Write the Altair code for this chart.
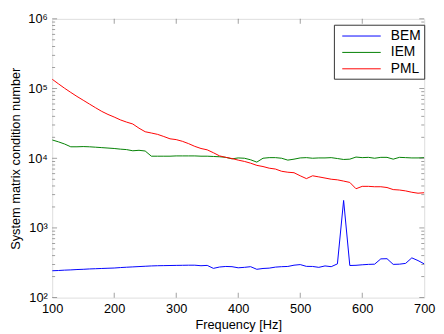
import altair as alt
import pandas as pd

freq = list(range(100, 701, 10))

bem = [243, 245, 248, 250, 253, 255, 258, 260, 262, 264,
       266, 270, 273, 276, 279, 282, 285, 287, 288, 289,
       290, 291, 292, 292, 287, 290, 263, 275, 280, 278,
       268, 272, 278, 255, 262, 265, 274, 278, 280, 292,
       298, 281, 280, 272, 285, 278, 305, 2480, 289, 291,
       296, 300, 302, 360, 362, 300, 302, 310, 372, 340,
       305]

iem = [18300, 17200, 16000, 14600, 14600, 14700, 14600, 14400, 14200, 14000,
       13800, 13500, 13300, 12800, 13000, 12700, 10700, 10700, 10700, 10700,
       10800, 10800, 10800, 10800, 10700, 10700, 10600, 10500, 10300, 9800,
       10100, 10000, 9500, 8800, 10000, 10200, 10200, 10000, 9400, 9700,
       10100, 10200, 10000, 10100, 10100, 10200, 9900, 9600, 9700, 10400,
       10200, 10300, 10000, 10300, 10300, 9700, 10300, 10200, 10100, 10100,
       10200]

pml = [136000, 117000, 101000, 88000, 77000, 68000, 60000, 53000, 47000, 42500,
       39000, 35500, 33000, 31000, 27000, 24000, 23000, 22000, 20500, 19000,
       18500, 17500, 16200, 14800, 13800, 13200, 12000, 10800, 10300, 9900,
       9400, 9000, 8500, 7900, 7600, 7200, 7000, 6500, 6300, 6200,
       5600, 5100, 5600, 5400, 5200, 5000, 4900, 4700, 4500, 3650,
       3950, 3950, 3900, 3900, 3800, 3550, 3500, 3400, 3250, 3150,
       3200]

series = ["BEM", "IEM", "PML"]
colors = ["#0000ff", "#008000", "#ff0000"]

x_ticks = [100, 200, 300, 400, 500, 600, 700]
y_major = [1e2, 1e3, 1e4, 1e5, 1e6]
y_minor = [m * 10 ** e for e in range(2, 6) for m in range(2, 10)]

W, H = 379, 284

rows = []
for name, vals in zip(series, [bem, iem, pml]):
    for f, v in zip(freq, vals):
        rows.append({"f": f, "v": v, "s": name})
df = pd.DataFrame(rows)

xscale = alt.Scale(domain=[100, 700], nice=False, zero=False)
yscale = alt.Scale(type="log", domain=[100, 1e6], nice=False)

font = "Liberation Sans"

lines = alt.Chart(df).mark_line(strokeWidth=1, clip=True).encode(
    x=alt.X("f:Q", scale=xscale,
            axis=alt.Axis(values=x_ticks, title="Frequency [Hz]", grid=False,
                          ticks=False, domain=False, labelPadding=5,
                          labelFontSize=13, labelColor="black", labelFont=font,
                          titleFont=font, titleFontSize=13, titleFontWeight="normal",
                          titleColor="black", titlePadding=3, labelFlush=False)),
    y=alt.Y("v:Q", scale=yscale,
            axis=alt.Axis(values=y_major, title="System matrix condition number",
                          grid=False, ticks=False, domain=False, labelPadding=5,
                          labelFontSize=13, labelColor="black", labelFont=font,
                          labelExpr="'10' + ['²','³','⁴','⁵','⁶'][round(log(datum.value)/LN10)-2]",
                          titleFont=font, titleFontSize=13, titleFontWeight="normal",
                          titleColor="black", titlePadding=5, labelFlush=False)),
    color=alt.Color("s:N", scale=alt.Scale(domain=series, range=colors),
                    legend=alt.Legend(title=None, orient="none", legendX=287, legendY=6,
                                      strokeColor="#333333", fillColor="white",
                                      padding=3, symbolType="M-1,0H3.9", symbolSize=256,
                                      symbolOffset=5, symbolStrokeWidth=1,
                                      labelFontSize=14, labelFont=font, labelColor="black",
                                      rowPadding=0.7, labelOffset=33)),
)

tick_color = "#555555"
ymaj = pd.DataFrame({"y": y_major})
ymin = pd.DataFrame({"y": y_minor})
xt = pd.DataFrame({"x": x_ticks[1:-1]})

def ytick(data, xpos, size):
    return alt.Chart(data).mark_tick(color=tick_color, thickness=0.8, size=size).encode(
        y=alt.Y("y:Q", scale=yscale), x=alt.value(xpos))

def xtick(data, ypos, size):
    return alt.Chart(data).mark_tick(color=tick_color, thickness=0.8, size=size).encode(
        x=alt.X("x:Q", scale=xscale), y=alt.value(ypos))

ticks = [
    ytick(ymaj, 2.5, 5), ytick(ymaj, W - 2.5, 5),
    ytick(ymin, 1.5, 3), ytick(ymin, W - 1.5, 3),
    xtick(xt, H - 2.5, 5), xtick(xt, 2.5, 5),
]

chart = alt.layer(lines, *ticks).properties(
    width=W, height=H,
    autosize=alt.AutoSizeParams(type="none"),
    padding={"left": 45, "top": 8, "right": 12, "bottom": 34},
).configure_view(stroke="#444444", strokeWidth=1).configure(background="white")

chart.save("out.html", embed_options={"renderer": "svg", "actions": False})
